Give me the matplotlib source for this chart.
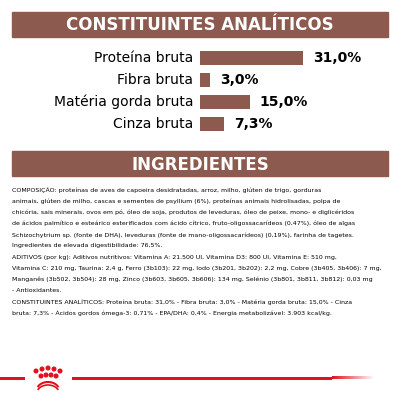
import matplotlib
matplotlib.use("Agg")
import matplotlib.pyplot as plt
from matplotlib.patches import Rectangle, Circle
import numpy as np

BROWN = "#8c5a4e"
RED = "#e3101e"

categorias = ["Proteína bruta", "Fibra bruta", "Matéria gorda bruta", "Cinza bruta"]
valores = [31.0, 3.0, 15.0, 7.3]
rotulos = ["31,0%", "3,0%", "15,0%", "7,3%"]

texto = [
    "COMPOSIÇÃO: proteínas de aves de capoeira desidratadas, arroz, milho, glúten de trigo, gorduras",
    "animais, glúten de milho, cascas e sementes de psyllium (6%), proteínas animais hidrolisadas, polpa de",
    "chicória, sais minerais, ovos em pó, óleo de soja, produtos de leveduras, óleo de peixe, mono- e diglicéridos",
    "de ácidos palmítico e esteárico esterificados com ácido cítrico, fruto-oligossacarídeos (0,47%), óleo de algas",
    "Schizochytrium sp. (fonte de DHA), leveduras (fonte de mano-oligossacarídeos) (0,19%), farinha de tagetes.",
    "Ingredientes de elevada digestibilidade: 76,5%.",
    "ADITIVOS (por kg): Aditivos nutritivos: Vitamina A: 21.500 UI, Vitamina D3: 800 UI, Vitamina E: 510 mg,",
    "Vitamina C: 210 mg, Taurina: 2,4 g, Ferro (3b103): 22 mg, Iodo (3b201, 3b202): 2,2 mg, Cobre (3b405, 3b406): 7 mg,",
    "Manganês (3b502, 3b504): 28 mg, Zinco (3b603, 3b605, 3b606): 134 mg, Selénio (3b801, 3b811, 3b812): 0,03 mg",
    "- Antioxidantes.",
    "CONSTITUINTES ANALÍTICOS: Proteína bruta: 31,0% - Fibra bruta: 3,0% - Matéria gorda bruta: 15,0% - Cinza",
    "bruta: 7,3% - Ácidos gordos ómega-3: 0,71% - EPA/DHA: 0,4% - Energia metabolizável: 3.903 kcal/kg.",
]

fig = plt.figure(figsize=(4, 4), dpi=100)
bg = fig.add_axes([0, 0, 1, 1])
bg.set_xlim(0, 400)
bg.set_ylim(400, 0)
bg.axis("off")

# faixas de título
for y0, h, t in [(12, 25, "CONSTITUINTES ANALÍTICOS"), (151, 25, "INGREDIENTES")]:
    bg.add_patch(Rectangle((12, y0), 376, h, color=BROWN))
    bg.text(200, y0 + h / 2 + 1, t, color="white", fontsize=12, fontweight="bold",
            ha="center", va="center")

# barras
ax = fig.add_axes([200 / 400, 1 - 135 / 400, 188 / 400, 88 / 400])
ax.barh(range(len(valores)), valores, height=0.6, color=BROWN)
ax.set_xlim(0, 31 * 188 / 103)
ax.set_ylim(3.5, -0.5)
ax.axis("off")
for i, (v, r) in enumerate(zip(valores, rotulos)):
    ax.text(v + 3, i, r, va="center", ha="left", fontsize=10, fontweight="bold")
    ax.text(-2, i, categorias[i], va="center", ha="right", fontsize=10)

# texto dos ingredientes
for i, linha in enumerate(texto):
    bg.text(12, 190 + i * 11.2, linha, fontsize=4.5, va="center", ha="left")

# logótipo
bg.add_patch(Rectangle((0, 376.5), 25, 3, color=RED, lw=0))
bg.add_patch(Rectangle((72, 376.5), 260, 3, color=RED, lw=0))
grad = np.zeros((1, 100, 4))
grad[..., 0], grad[..., 1], grad[..., 2] = 0.89, 0.06, 0.12
grad[..., 3] = np.linspace(1, 0, 100)
bg.imshow(grad, extent=(332, 375, 379.5, 376.5), aspect="auto", interpolation="bilinear")
bg.set_xlim(0, 400)
bg.set_ylim(400, 0)
for cx, cy in [(36, 371), (42, 369), (48, 368), (54, 369), (60, 371),
               (41, 376), (46, 375), (51, 375), (56, 376)]:
    bg.add_patch(Circle((cx, cy), 1.8, color=RED))
t = np.linspace(0.15 * np.pi, 0.85 * np.pi, 30)
bg.plot(48 + 11 * np.cos(t), 390 - 8 * np.sin(t), color=RED, lw=1.5)
bg.plot(48 + 11 * np.cos(t), 393 - 8 * np.sin(t), color=RED, lw=1.2)

fig.savefig("out.png", dpi=100)
